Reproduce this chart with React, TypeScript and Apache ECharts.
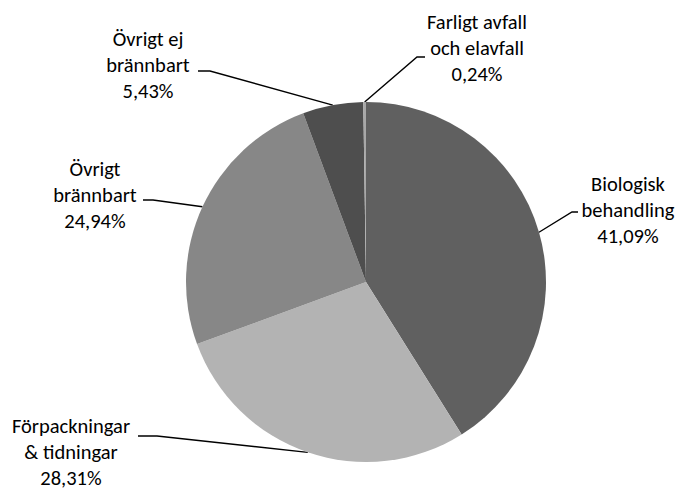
import React, { useEffect, useRef } from "react";
import * as echarts from "echarts";

const categories = [
  "Biologisk\nbehandling",
  "Förpackningar\n& tidningar",
  "Övrigt\nbrännbart",
  "Övrigt ej\nbrännbart",
  "Farligt avfall\noch elavfall",
];
const values = [41.09, 28.31, 24.94, 5.43, 0.24];
const colors = ["#606060", "#b3b3b3", "#878787", "#4e4e4e", "#a8a8a8"];

// label placement (layout only)
const labelLayouts = [
  { x: 628, y: 210, elbow: [572, 212], end: [578, 212] },
  { x: 71, y: 452, elbow: [157, 436], end: [138, 436] },
  { x: 95, y: 195, elbow: [153, 200], end: [143, 200] },
  { x: 148, y: 65, elbow: [210, 71], end: [198, 71] },
  { x: 477, y: 48, elbow: [417, 57], end: [425, 57] },
];

const fmt = (v: number) => v.toFixed(2).replace(".", ",") + "%";

export default function App() {
  const ref = useRef<HTMLDivElement>(null);
  useEffect(() => {
    if (!ref.current) return;
    const chart = echarts.init(ref.current, undefined, { renderer: "svg" });
    chart.setOption({
      animation: false,
      backgroundColor: "#ffffff",
      series: [
        {
          type: "pie",
          center: [366, 282],
          radius: [0, 180],
          startAngle: 90,
          clockwise: true,
          avoidLabelOverlap: false,
          data: categories.map((c, i) => ({
            name: c,
            value: values[i],
            itemStyle: { color: colors[i] },
          })),
          label: {
            show: true,
            position: "outside",
            formatter: (p: any) => p.name + "\n" + fmt(p.value),
            color: "#000000",
            fontFamily: "Carlito, Lato, sans-serif",
            fontSize: 20.5,
            lineHeight: 26,
            align: "center",
          },
          labelLine: {
            show: true,
            length: 10,
            length2: 10,
            smooth: false,
            lineStyle: { color: "#000000", width: 1.4 },
          },
          labelLayout: (params: any) => {
            const l = labelLayouts[params.dataIndex];
            const start = params.labelLinePoints
              ? params.labelLinePoints[0]
              : l.elbow;
            return {
              x: l.x,
              y: l.y,
              align: "center",
              verticalAlign: "middle",
              labelLinePoints: [start, l.elbow, l.end],
            };
          },
          emphasis: { disabled: true },
        },
      ],
    });
    return () => chart.dispose();
  }, []);
  return (
    <div
      ref={ref}
      style={{ position: "fixed", left: 0, top: 0, width: 680, height: 492 }}
    />
  );
}
